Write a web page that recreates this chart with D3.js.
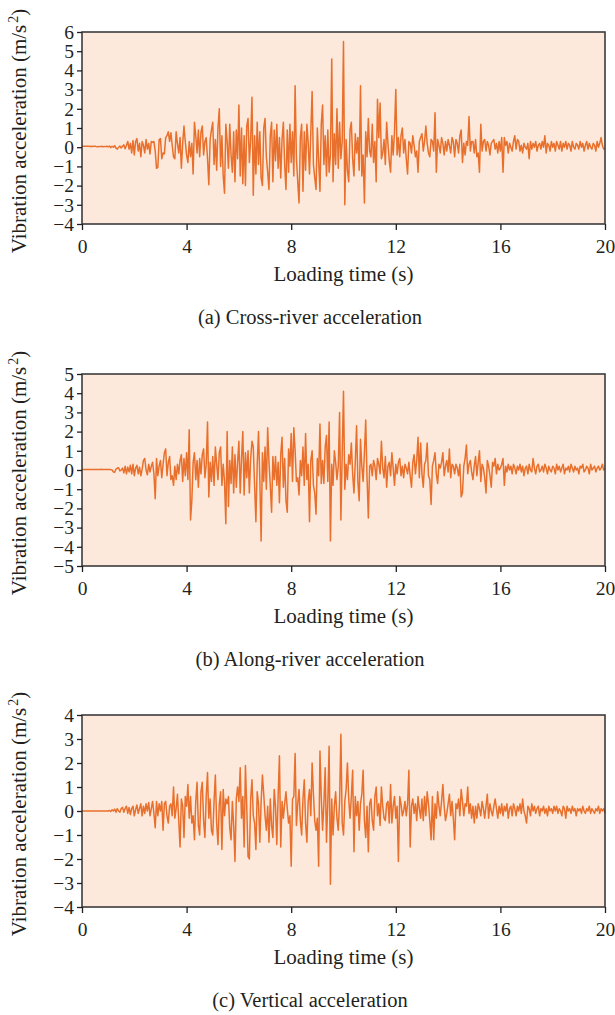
<!DOCTYPE html>
<html>
<head>
<meta charset="utf-8">
<script src="https://cdn.jsdelivr.net/npm/d3@7"></script>
<style>
  body { margin: 0; background: #fff; }
  svg text { font-family: "Liberation Serif", "DejaVu Serif", serif; fill: #231f20; }
</style>
</head>
<body>
<svg id="chart" width="615" height="1015"></svg>
<script>
// sampling step of the records (s)
const dt = 0.05;

// x axis ticks (s)
const timeTicks = [0, 4, 8, 12, 16, 20];

// (a) cross-river acceleration, m/s^2, one row per second
const crossRiver = [
  0.05,0.05,0.05,0.05,0.05,0.05,0.04,0.05,0.04,0.05,0.05,0.03,0.02,0.04,0.03,0.05,0.02,0.04,0.03,0.05,
  0.02,0.06,-0.02,0.05,0.0,0.08,-0.05,-0.1,0.0,0.06,-0.04,0.05,0.12,-0.08,0.1,0.3,-0.1,0.2,-0.3,0.35,
  -0.4,0.3,0.45,-0.2,0.2,-0.5,0.3,0.1,-0.3,0.4,-0.1,0.2,-0.35,0.3,0.25,0.3,-0.2,-1.1,-1.05,0.4,
  0.45,-0.6,-0.3,-0.35,0.5,0.6,0.8,0.3,0.75,0.1,-0.5,-0.6,0.8,0.2,-0.3,0.5,-1.1,0.2,1.1,0.3,
  -0.4,-0.8,0.3,-0.5,0.2,-1.4,1.3,0.6,-0.3,0.9,-0.5,0.8,1.1,-0.4,0.3,0.5,-0.6,-1.95,0.4,0.9,
  1.3,-0.9,0.4,-1.2,1.0,2.0,-1.0,0.6,-1.5,-2.4,1.2,0.3,-1.1,1.2,-0.4,-1.3,0.8,-1.8,0.9,-0.6,
  2.2,-1.5,1.0,-1.9,0.6,-2.0,1.1,1.5,-0.8,0.4,2.6,-2.5,0.6,-1.4,1.3,-0.9,0.8,-1.6,-2.0,1.0,
  1.5,-0.5,-1.3,-2.2,0.6,1.3,-1.8,0.9,-0.7,1.2,-1.1,0.5,-1.6,0.4,1.3,-0.9,-2.2,0.9,-1.3,1.2,
  -0.8,0.8,-1.5,3.2,-0.6,-1.8,-2.9,0.5,1.2,-2.3,0.8,-1.2,1.2,0.2,-1.4,0.8,2.9,-0.9,-1.6,-2.2,
  1.0,-0.7,-2.3,1.2,2.2,-0.9,0.6,-1.5,0.9,-1.3,-0.4,4.6,-1.8,0.7,-0.9,2.0,-1.1,1.3,-0.6,0.3,
  5.5,-3.0,0.4,-1.2,-1.8,0.9,1.3,-0.6,-1.5,0.7,-0.3,0.5,-1.2,3.2,-1.5,-0.4,-2.9,0.8,-0.5,1.5,
  -0.2,-0.5,1.2,-0.8,0.3,-1.8,2.5,0.5,2.3,-0.6,-0.3,0.4,-0.9,1.3,0.2,-0.7,-1.3,0.6,-0.4,0.8,
  3.0,-0.4,0.5,-0.5,0.6,1.0,-0.3,0.4,-0.6,-1.4,0.3,0.2,-0.3,0.6,0.1,-0.5,-0.2,-1.3,0.3,0.5,
  0.7,-0.2,0.3,1.1,0.2,-0.3,-0.5,0.4,0.3,-0.2,1.8,-1.3,0.4,0.1,-0.3,0.5,0.2,-0.4,0.3,-0.2,
  0.4,0.1,-0.3,0.5,0.3,-0.5,0.4,0.2,-0.3,0.6,0.9,-0.8,0.2,-0.4,0.3,0.1,1.6,-0.2,0.3,0.3,
  -0.3,0.4,-0.5,-0.3,-1.3,1.2,-0.2,0.3,0.4,-0.2,0.3,0.1,-0.4,0.2,0.3,0.4,-0.1,0.2,-0.3,0.3,
  -0.2,0.5,-1.3,0.5,0.1,0.3,-0.3,0.2,0.0,-0.2,0.3,0.6,-0.1,0.4,0.3,-0.2,0.1,-0.3,0.2,0.0,
  -0.1,0.2,-0.6,0.3,-0.1,0.2,0.0,0.3,-0.2,0.1,0.2,-0.1,0.3,0.0,0.6,-0.3,0.2,0.1,-0.2,0.3,
  0.0,0.2,-0.2,0.3,0.1,-0.1,0.3,-0.2,0.2,0.0,0.3,-0.1,0.2,0.1,-0.2,0.3,0.0,-0.1,0.2,0.1,
  -0.1,0.3,0.0,0.2,-0.2,0.1,0.3,-0.1,0.2,0.0,-0.1,0.2,0.1,-0.2,0.3,0.0,0.2,0.5,0.1,-0.1,
  -0.1
];

// (b) along-river acceleration, m/s^2
const alongRiver = [
  0.03,0.03,0.03,0.02,0.03,0.03,0.02,0.03,0.03,0.02,0.03,0.03,0.02,0.03,0.03,0.04,0.02,0.03,0.03,0.02,
  0.03,0.03,0.02,0.0,-0.1,-0.12,0.05,0.1,0.12,-0.05,0.0,0.1,-0.15,0.2,-0.2,0.15,-0.1,0.25,-0.2,0.3,
  -0.3,0.1,0.25,-0.2,0.15,-0.3,0.05,0.5,0.6,0.0,-0.25,0.3,-0.1,0.2,0.4,-0.2,-1.5,0.6,-0.3,0.2,
  0.5,-0.4,0.3,0.9,1.1,-0.3,0.4,0.7,-0.5,-0.3,-0.8,0.2,-0.5,0.3,-0.2,0.5,0.8,-0.6,0.6,-0.3,
  0.9,-0.5,2.1,-2.6,-1.6,0.4,0.9,-0.5,0.5,-0.9,0.6,-0.2,0.8,1.1,-0.4,0.3,2.5,-1.4,0.4,-0.6,
  0.7,-0.8,1.2,0.3,-0.5,0.9,1.2,-0.8,0.3,-0.6,-2.8,2.0,-1.9,0.5,-0.7,1.2,-1.2,0.8,-0.9,0.4,
  1.5,-1.2,0.6,2.0,-1.3,0.9,-0.4,1.0,-1.2,0.6,1.5,1.2,-0.8,-2.7,0.3,2.0,-0.5,-3.7,0.9,-0.6,
  1.2,-1.0,2.2,0.4,-0.8,-2.2,0.7,-0.5,0.7,-0.8,0.4,-1.7,0.8,1.7,-0.9,0.6,-1.6,-2.2,1.1,0.2,
  1.9,-0.6,2.2,1.0,-0.6,-0.4,-1.3,0.5,-0.3,1.2,-0.8,1.9,-0.5,0.3,-2.7,0.5,1.0,-0.8,-1.2,-2.3,
  0.6,-0.3,2.4,-0.7,0.5,-0.7,1.2,1.8,-0.6,2.5,-3.7,0.3,-0.8,1.0,0.4,-0.5,0.2,3.0,-2.6,0.8,
  4.1,-1.0,0.3,-0.5,0.8,0.3,1.4,-0.2,-1.2,0.4,2.3,-0.6,-1.6,1.6,0.2,-0.6,0.9,2.6,-0.4,-2.5,
  0.2,0.3,-0.3,0.5,0.2,-0.5,0.6,0.3,-0.2,1.5,0.1,-0.4,0.7,-0.9,0.2,0.4,-0.3,0.9,0.1,-0.8,
  0.3,-0.2,0.4,0.6,-0.3,0.2,-0.4,0.3,0.1,-0.2,0.4,-0.3,-0.9,0.4,0.8,-0.2,0.5,1.7,-0.4,1.4,
  -0.2,-0.9,0.3,0.5,1.4,-0.3,-0.5,-1.8,0.2,0.5,0.9,-0.2,-0.7,0.3,0.1,0.4,0.9,-0.3,0.2,0.5,
  -0.1,1.1,-0.4,0.3,0.2,-0.2,0.3,0.1,-0.3,0.3,-1.4,-1.2,0.2,0.6,1.3,-0.2,0.3,0.5,-0.1,-0.5,
  0.2,0.7,-0.3,0.4,1.0,-0.6,0.3,0.1,-0.4,-1.2,0.5,0.2,-0.3,-0.9,0.4,0.2,0.6,-0.2,0.3,0.0,
  0.1,0.3,0.6,-0.8,0.2,-0.1,0.3,0.0,0.2,-0.2,0.3,0.1,-0.2,0.2,0.0,0.3,-0.1,0.2,-0.3,0.1,
  0.2,-0.2,0.3,0.0,-0.1,0.6,0.1,-0.2,0.2,0.3,-0.1,0.0,0.2,-0.1,0.3,0.1,-0.2,0.2,0.0,-0.1,
  0.2,0.1,-0.2,0.3,0.0,0.2,-0.1,0.1,0.3,-0.2,0.1,0.0,0.2,-0.1,0.3,0.1,-0.1,0.2,0.0,0.1,
  -0.2,0.2,0.1,0.3,-0.1,0.0,0.2,0.1,-0.2,0.3,0.0,0.1,0.2,-0.1,0.1,0.2,0.0,0.1,0.3,0.0,
  0.1
];

// (c) vertical acceleration, m/s^2
const vertical = [
  0,0,0,0,0,0,0,0,0,0,0,0,0,0,0,0,0,0,0,0,
  0.0,0.02,-0.02,0.05,0.0,0.08,-0.05,0.1,0.0,-0.05,0.1,0.15,-0.05,0.1,0.2,-0.1,0.15,-0.15,0.1,0.2,
  -0.2,0.05,0.25,-0.1,0.1,0.3,-0.2,0.2,-0.1,0.3,0.0,0.35,-0.2,0.1,0.4,-0.1,-0.7,0.4,-0.2,0.3,
  0.0,0.4,-0.8,0.3,0.4,-0.2,-0.5,0.2,0.3,-0.2,1.0,-0.3,0.1,0.7,-0.4,-1.5,0.5,0.2,-1.1,0.6,
  0.2,1.1,-0.3,0.6,-0.5,-0.2,-1.2,0.4,1.2,-0.6,-1.0,0.8,1.2,-0.4,-1.1,0.6,1.6,-0.3,0.5,-0.8,
  -1.0,0.4,1.5,-0.5,-1.4,0.3,0.8,-1.6,0.9,-0.2,0.5,0.3,0.6,-0.7,-1.2,0.4,-0.6,-2.1,0.5,1.0,
  0.4,1.8,-0.3,0.6,-1.5,1.9,0.2,-1.9,-2.0,0.5,1.3,-0.2,-0.5,-1.6,0.8,0.3,-1.3,0.4,1.5,0.7,
  -0.2,-0.8,0.2,-1.3,0.5,-0.6,-1.1,0.9,0.2,-1.4,0.6,2.3,-1.5,0.4,-0.3,0.3,0.8,0.1,-0.5,-0.2,
  -2.3,0.5,0.6,2.4,-0.6,0.3,0.9,-0.4,-1.0,0.5,1.3,-0.5,-1.3,0.4,0.9,-0.2,2.0,0.7,-0.4,-0.8,
  -0.3,-2.3,2.5,0.6,-0.8,0.3,1.8,-1.3,0.4,2.7,-3.05,0.5,-1.0,0.2,0.8,-0.3,-0.8,0.4,3.2,-0.5,
  -1.0,0.4,0.9,2.0,0.5,-0.3,0.6,1.7,-1.7,0.6,-0.2,0.4,-0.8,0.3,0.7,1.7,-0.4,-1.1,0.2,-1.7,
  0.3,0.5,-0.4,-0.8,0.6,1.0,-0.2,0.3,-0.6,1.0,0.2,-0.3,-0.4,0.3,0.4,-0.5,1.1,-0.5,0.2,0.6,
  -0.3,0.2,-2.1,0.6,0.3,-0.2,0.0,0.4,-0.2,0.3,1.7,-1.5,0.2,0.5,-0.1,0.3,-0.4,0.6,0.1,-0.3,
  0.5,-0.4,0.6,-0.2,0.8,0.3,-0.4,-1.2,0.6,-1.2,0.3,-0.3,0.8,0.2,-0.2,0.4,1.1,0.2,-0.4,-0.1,
  0.3,0.7,-0.2,0.4,-0.3,-1.2,0.3,0.1,0.5,-0.2,0.9,0.4,-0.2,0.3,0.2,1.0,-0.1,0.3,-0.3,0.2,
  -0.5,0.2,-0.3,0.3,0.1,-0.2,0.4,0.1,-0.3,0.2,0.7,-0.3,0.3,0.0,-0.2,0.2,0.5,0.1,-0.3,0.2,
  -0.1,0.3,-0.2,0.2,0.0,0.3,-0.3,0.1,0.2,-0.2,0.3,0.1,-0.2,0.2,0.0,0.3,-0.1,0.5,0.0,-0.2,
  -0.5,0.2,0.1,-0.2,0.3,0.0,0.2,-0.1,0.1,0.2,-0.2,0.1,0.0,0.2,-0.1,0.1,-0.2,0.2,0.0,0.1,
  -0.1,0.2,0.0,0.2,-0.1,0.1,0.0,-0.2,0.2,0.1,-0.3,0.2,0.0,0.1,-0.1,0.2,0.0,0.1,-0.2,0.1,
  0.0,0.1,-0.1,0.2,0.0,-0.1,0.1,0.0,0.2,-0.1,0.1,0.0,-0.1,0.1,0.0,0.2,-0.1,0.1,0.0,0.1,
  -0.1
];

const panels = [
  { values: crossRiver, yDomain: [-4, 6], caption: "(a) Cross-river acceleration", top: 32 },
  { values: alongRiver, yDomain: [-5, 5], caption: "(b) Along-river acceleration", top: 374 },
  { values: vertical,   yDomain: [-4, 4], caption: "(c) Vertical acceleration",    top: 715 }
];

const left = 82, plotW = 523, plotH = 192;
const lineColor = "#e8702c";
const svg = d3.select("#chart");

const fmt = d => d < 0 ? "\u2212" + Math.abs(d) : String(d);

panels.forEach(p => {
  const g = svg.append("g").attr("transform", `translate(${left},${p.top})`);

  const x = d3.scaleLinear().domain([0, 20]).range([0, plotW]);
  const y = d3.scaleLinear().domain(p.yDomain).range([plotH, 0]);

  // shaded plot area
  g.append("rect")
    .attr("width", plotW).attr("height", plotH)
    .attr("fill", "#fde9db");

  const line = d3.line()
    .x((d, i) => x(i * dt))
    .y(d => y(d));

  g.append("path")
    .datum(p.values)
    .attr("d", line)
    .attr("fill", "none")
    .attr("stroke", lineColor)
    .attr("stroke-width", 1.5)
    .attr("stroke-linejoin", "round");

  // frame
  g.append("rect")
    .attr("width", plotW).attr("height", plotH)
    .attr("fill", "none")
    .attr("stroke", "#3d3b3b")
    .attr("stroke-width", 1.6);

  const xAxis = g.append("g")
    .attr("transform", `translate(0,${plotH})`)
    .call(d3.axisBottom(x).tickValues(timeTicks).tickSize(6).tickPadding(9).tickFormat(fmt));

  const yTicks = d3.range(p.yDomain[0], p.yDomain[1] + 1);
  const yAxis = g.append("g")
    .call(d3.axisLeft(y).tickValues(yTicks).tickSize(5).tickPadding(3).tickFormat(fmt));

  [xAxis, yAxis].forEach(a => {
    a.select(".domain").remove();
    a.selectAll("line").attr("stroke", "#231f20").attr("stroke-width", 1.3);
    a.selectAll("text").attr("font-size", 19.5).attr("font-family", "Liberation Serif, serif").attr("fill", "#231f20");
  });

  // x axis title
  g.append("text")
    .attr("x", plotW / 2)
    .attr("y", plotH + 57)
    .attr("text-anchor", "middle")
    .attr("font-size", 21)
    .text("Loading time (s)");

  // caption
  g.append("text")
    .attr("x", 228)
    .attr("y", plotH + 100)
    .attr("text-anchor", "middle")
    .attr("font-size", 20.5)
    .text(p.caption);

  // y axis title
  const yt = g.append("text")
    .attr("transform", `translate(-56,${plotH / 2 + 3}) rotate(-90)`)
    .attr("text-anchor", "middle")
    .attr("font-size", 21);
  yt.append("tspan").text("Vibration acceleration (m/s");
  yt.append("tspan").attr("dx", 2).attr("dy", -8).attr("font-size", 14).text("2");
  yt.append("tspan").attr("dy", 8).text(")");
});
</script>
</body>
</html>
